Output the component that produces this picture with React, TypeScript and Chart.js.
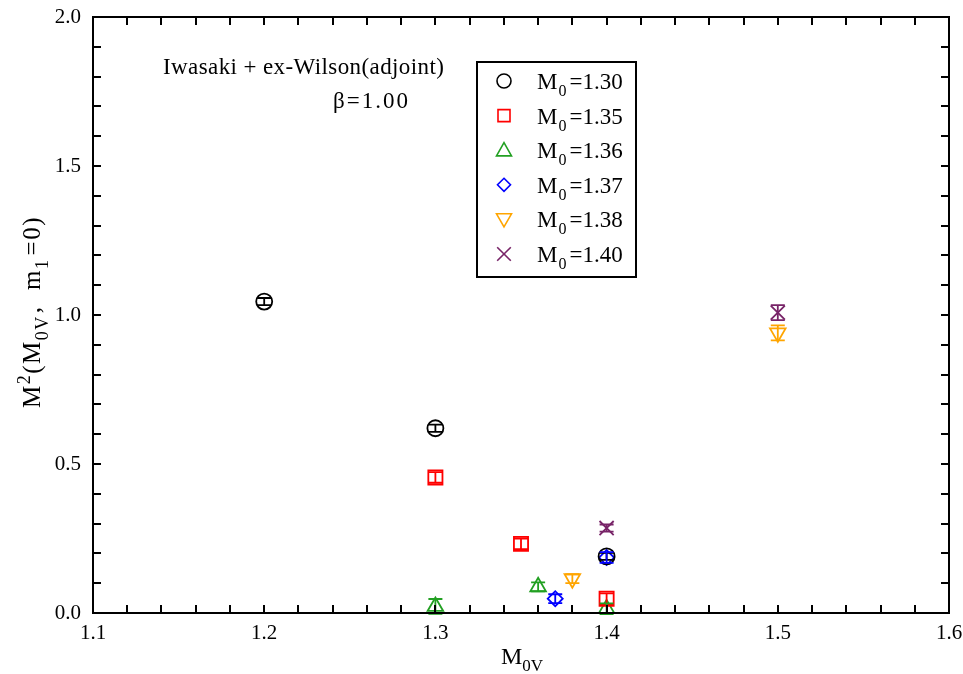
import React, { useEffect, useRef } from "react";
import { Chart, registerables } from "chart.js";
Chart.register(...registerables);

const seriesLabels = ["1.30", "1.35", "1.36", "1.37", "1.38", "1.40"];
const colors = ["#000000", "#ff0000", "#22a022", "#0000ff", "#ffa500", "#782468"];
const styles = ["circle", "rect", "triangle", "rectRot", "triangle", "crossRot"];
const rotations = [0, 0, 0, 0, 180, 0];
const radii = [8, 10, 9, 7.5, 9, 10];

const x130 = [1.2, 1.3, 1.4];
const y130 = [1.045, 0.62, 0.19];
const e130 = [0.012, 0.012, 0.012];
const x135 = [1.3, 1.35, 1.4];
const y135 = [0.455, 0.232, 0.048];
const e135 = [0.018, 0.018, 0.018];
const x136 = [1.3, 1.36, 1.4];
const y136 = [0.022, 0.088, 0.014];
const e136 = [0.025, 0.015, 0.018];
const x137 = [1.37, 1.4];
const y137 = [0.048, 0.186];
const e137 = [0.015, 0.018];
const x138 = [1.38, 1.5];
const y138 = [0.115, 0.94];
const e138 = [0.015, 0.025];
const x140 = [1.4, 1.5];
const y140 = [0.285, 1.008];
const e140 = [0.012, 0.025];

const xs = [x130, x135, x136, x137, x138, x140];
const ys = [y130, y135, y136, y137, y138, y140];
const es = [e130, e135, e136, e137, e138, e140];

const xTickLabels = ["1.1", "1.2", "1.3", "1.4", "1.5", "1.6"];
const yTickLabels = ["0.0", "0.5", "1.0", "1.5", "2.0"];

const FONT = "'Liberation Serif', 'Times New Roman', serif";

type Part = [string, string, number?];

function drawParts(ctx: CanvasRenderingContext2D, x: number, y: number, parts: Part[], size: number) {
  let cx = x;
  for (const [t, m, gap] of parts) {
    const s = m === "n" ? size : Math.round(size * 0.7);
    ctx.font = `${s}px ${FONT}`;
    const dy = m === "sub" ? size * 0.3 : m === "sup" ? -size * 0.4 : 0;
    ctx.fillText(t, cx, y + dy);
    cx += ctx.measureText(t).width + (gap || 0);
  }
  return cx - x;
}
function measureParts(ctx: CanvasRenderingContext2D, parts: Part[], size: number) {
  let w = 0;
  for (const [t, m, gap] of parts) {
    const s = m === "n" ? size : Math.round(size * 0.7);
    ctx.font = `${s}px ${FONT}`;
    w += ctx.measureText(t).width + (gap || 0);
  }
  return w;
}

function drawPointLocal(ctx: CanvasRenderingContext2D, style: string, r: number, x: number, y: number, rot: number) {
  ctx.beginPath();
  if (style === "circle") {
    ctx.arc(x, y, r, 0, Math.PI * 2);
  } else if (style === "rect") {
    const s = r;
    ctx.rect(x - s, y - s, 2 * s, 2 * s);
  } else if (style === "triangle") {
    const d = rot === 180 ? -1 : 1;
    ctx.moveTo(x, y - d * r);
    ctx.lineTo(x + r * 1.0, y + d * r * 0.75);
    ctx.lineTo(x - r * 1.0, y + d * r * 0.75);
    ctx.closePath();
  } else if (style === "rectRot") {
    ctx.moveTo(x, y - r);
    ctx.lineTo(x + r, y);
    ctx.lineTo(x, y + r);
    ctx.lineTo(x - r, y);
    ctx.closePath();
  } else if (style === "crossRot") {
    const s = r * 0.85;
    ctx.moveTo(x - s, y - s);
    ctx.lineTo(x + s, y + s);
    ctx.moveTo(x + s, y - s);
    ctx.lineTo(x - s, y + s);
  }
  ctx.stroke();
}

const overlay = {
  id: "overlay",
  afterDatasetsDraw(chart: any) {
    const ctx = chart.ctx as CanvasRenderingContext2D;
    const { left, right, top, bottom } = chart.chartArea;
    const xs_ = chart.scales.x;
    const ys_ = chart.scales.y;
    ctx.save();
    // error bars
    chart.data.datasets.forEach((ds: any, i: number) => {
      ctx.strokeStyle = colors[i];
      ctx.lineWidth = 1.8;
      ds.data.forEach((p: any, j: number) => {
        const px = xs_.getPixelForValue(p.x);
        const e = es[i][j];
        const y1 = ys_.getPixelForValue(p.y - e);
        const y2 = ys_.getPixelForValue(p.y + e);
        ctx.beginPath();
        ctx.moveTo(px, y1);
        ctx.lineTo(px, y2);
        ctx.moveTo(px - 7, y1);
        ctx.lineTo(px + 7, y1);
        ctx.moveTo(px - 7, y2);
        ctx.lineTo(px + 7, y2);
        ctx.stroke();
      });
    });
    // frame
    ctx.strokeStyle = "#000";
    ctx.lineWidth = 2;
    ctx.strokeRect(left, top, right - left, bottom - top);
    for (let k = 0; k <= 25; k++) {
      const v = 1.1 + k * 0.02;
      const px = Math.round(xs_.getPixelForValue(v));
      const len = 8;
      ctx.beginPath();
      ctx.moveTo(px, bottom);
      ctx.lineTo(px, bottom - len);
      ctx.moveTo(px, top);
      ctx.lineTo(px, top + len);
      ctx.stroke();
    }
    for (let k = 0; k <= 20; k++) {
      const v = k * 0.1;
      const py = Math.round(ys_.getPixelForValue(v));
      const len = 8;
      ctx.beginPath();
      ctx.moveTo(left, py);
      ctx.lineTo(left + len, py);
      ctx.moveTo(right, py);
      ctx.lineTo(right - len, py);
      ctx.stroke();
    }
    // tick labels
    ctx.fillStyle = "#000";
    ctx.font = `21px ${FONT}`;
    ctx.textAlign = "center";
    ctx.textBaseline = "middle";
    xTickLabels.forEach((t) => {
      ctx.fillText(t, xs_.getPixelForValue(parseFloat(t)), 633);
    });
    ctx.textAlign = "right";
    yTickLabels.forEach((t) => {
      ctx.fillText(t, 81, ys_.getPixelForValue(parseFloat(t)));
    });
    // axis titles
    ctx.textAlign = "left";
    ctx.textBaseline = "alphabetic";
    const xt: Part[] = [["M", "n"], ["0V", "sub"]];
    const xw = measureParts(ctx, xt, 24);
    drawParts(ctx, 522 - xw / 2, 664, xt, 24);
    (ctx as any).letterSpacing = "1.5px";
    const yt: Part[] = [["M", "n"], ["2", "sup"], ["(M", "n"], ["0V", "sub", 2], [",  m", "n"], ["1", "sub", 3], ["=0)", "n"]];
    const yw = measureParts(ctx, yt, 25);
    ctx.save();
    ctx.translate(40, 312);
    ctx.rotate(-Math.PI / 2);
    drawParts(ctx, -yw / 2, 0, yt, 25);
    ctx.restore();
    (ctx as any).letterSpacing = "0px";
    // annotation
    ctx.font = `23px ${FONT}`;
    (ctx as any).letterSpacing = "0.4px";
    ctx.fillText("Iwasaki + ex-Wilson(adjoint)", 163, 74);
    (ctx as any).letterSpacing = "2px";
    ctx.fillText("\u03b2=1.00", 333, 108);
    (ctx as any).letterSpacing = "0px";
    // legend
    ctx.fillStyle = "#fff";
    ctx.fillRect(477, 62, 159, 215);
    ctx.strokeStyle = "#000";
    ctx.lineWidth = 2;
    ctx.strokeRect(477, 62, 159, 215);
    const lr = [7, 6, 7.5, 6.5, 7.5, 8];
    seriesLabels.forEach((lab, i) => {
      const cy = 81 + i * 34.6;
      ctx.save();
      ctx.strokeStyle = colors[i];
      ctx.lineWidth = 1.6;
      drawPointLocal(ctx, styles[i], lr[i], 504, cy, rotations[i]);
      ctx.restore();
      ctx.fillStyle = "#000";
      drawParts(ctx, 537, cy + 8, [["M", "n", 1], ["0", "sub", 3], ["=1.", "n"], [lab.slice(2), "n"]], 23);
    });
    ctx.restore();
  },
};

export default function App() {
  const ref = useRef<HTMLCanvasElement>(null);
  useEffect(() => {
    const datasets = seriesLabels.map((lab, i) => ({
      label: "M0=" + lab,
      data: xs[i].map((x, j) => ({ x, y: ys[i][j] })),
      pointStyle: styles[i] as any,
      pointRotation: rotations[i],
      pointRadius: radii[i],
      pointBorderWidth: 1.8,
      borderColor: colors[i],
      backgroundColor: "rgba(0,0,0,0)",
      pointBackgroundColor: "rgba(0,0,0,0)",
      showLine: false,
    }));
    const chart = new Chart(ref.current!, {
      type: "scatter",
      data: { datasets },
      options: {
        animation: false,
        responsive: false,
        events: [],
        layout: { padding: { left: 0, right: 14, top: 17, bottom: 0 } },
        plugins: { legend: { display: false }, tooltip: { enabled: false } },
        scales: {
          x: {
            type: "linear",
            min: 1.1,
            max: 1.6,
            grid: { display: false },
            border: { display: false },
            ticks: { display: false },
            afterFit: (s: any) => { s.height = 61; },
          },
          y: {
            type: "linear",
            min: 0,
            max: 2,
            grid: { display: false },
            border: { display: false },
            ticks: { display: false },
            afterFit: (s: any) => { s.width = 93; },
          },
        },
      },
      plugins: [overlay],
    });
    return () => chart.destroy();
  }, []);
  return (
    <div style={{ position: "absolute", left: 0, top: 0, width: 963, height: 674, background: "#fff" }}>
      <canvas ref={ref} width={963} height={674} style={{ width: 963, height: 674 }} />
    </div>
  );
}
